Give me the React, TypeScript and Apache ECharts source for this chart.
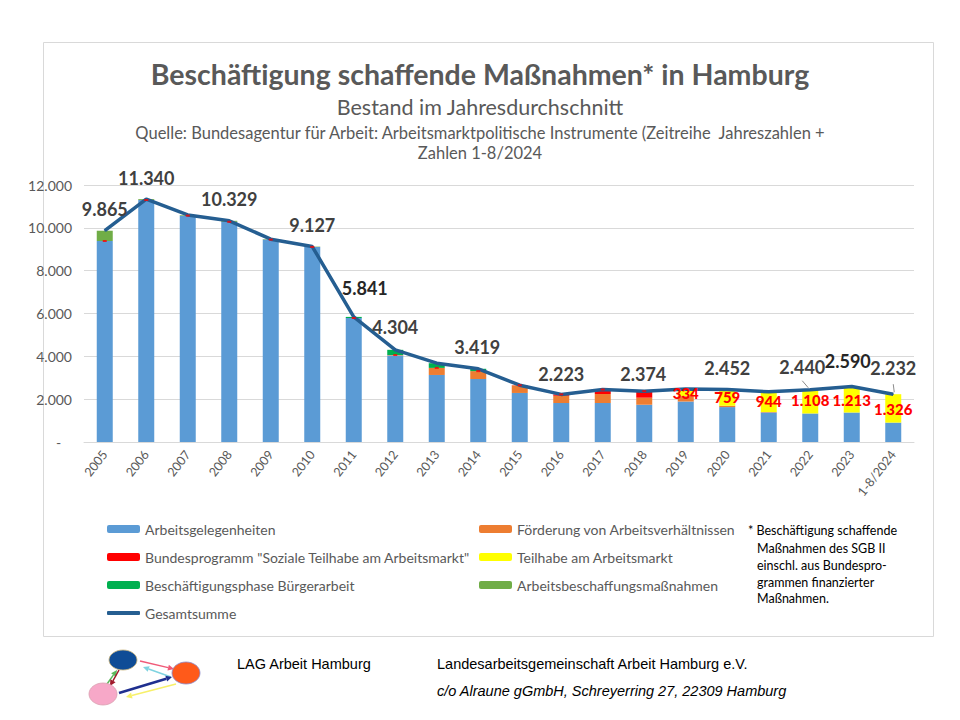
import React, { useEffect, useRef } from "react";
import * as echarts from "echarts";

const years = ["2005","2006","2007","2008","2009","2010","2011","2012","2013","2014","2015","2016","2017","2018","2019","2020","2021","2022","2023","1-8/2024"];
const arbeitsgelegenheiten = [9385, 11300, 10570, 10280, 9450, 9110, 5790, 4040, 3130, 2940, 2290, 1820, 1820, 1740, 1890, 1630, 1380, 1332, 1377, 906];
const foerderung = [0, 0, 0, 0, 0, 0, 0, 20, 330, 370, 350, 340, 420, 330, 230, 63, 20, 0, 0, 0];
const bundesprogramm = [0, 0, 0, 0, 0, 0, 0, 0, 0, 0, 10, 63, 210, 304, 20, 0, 0, 0, 0, 0];
const teilhabe = [0, 0, 0, 0, 0, 0, 0, 0, 0, 0, 0, 0, 0, 0, 334, 759, 944, 1108, 1213, 1326];
const buergerarbeit = [0, 0, 0, 0, 0, 0, 51, 244, 220, 109, 0, 0, 0, 0, 0, 0, 0, 0, 0, 0];
const abm = [480, 40, 30, 49, 20, 17, 0, 0, 0, 0, 0, 0, 0, 0, 0, 0, 0, 0, 0, 0];
const gesamtsumme = [9865, 11340, 10600, 10329, 9470, 9127, 5841, 4304, 3680, 3419, 2650, 2223, 2450, 2374, 2474, 2452, 2344, 2440, 2590, 2232];
const yTicks = [0, 2000, 4000, 6000, 8000, 10000, 12000];

// which totals carry a label, and label nudges (layout, not data)
const totalLabelNudge: Record<number, [number, number]> = {
  0: [0, 0], 1: [0, 0], 3: [0, 0], 5: [0, 0], 6: [11, -7], 7: [0, -1], 9: [-1, 0],
  11: [0, 1], 13: [-1, 4], 15: [0, 0], 17: [-8, -1], 18: [-4, -4], 19: [0, -5],
};
// leader line offsets from the point: [fromDx, fromDy, toDx, toDy]
const leaderOffsets: Record<number, [number, number, number, number]> = {
  17: [-8, -9, -2, -2],
  19: [0, -10, 1, -2],
};
const redLabelNudge: Record<number, number> = { 14: -6, 15: -2, 16: 0, 17: 1, 18: 4, 19: 5 };
const darkTotals = [6, 18];

const fmt = (v: number) => String(Math.round(v)).replace(/\B(?=(\d{3})+(?!\d))/g, ".");

const COL = {
  blue: "#5B9BD5", orange: "#ED7D31", red: "#FF0000", yellow: "#FFFF00",
  dgreen: "#00B050", lgreen: "#70AD47", line: "#255E91", text: "#595959",
};
const CAL = "Lato, 'Noto Sans', sans-serif";
const ARIAL = "'Liberation Sans', Arial, sans-serif";

export default function App() {
  const ref = useRef<HTMLDivElement>(null);
  useEffect(() => {
    if (!ref.current) return;
    const chart = echarts.init(ref.current, null, { renderer: "svg" });

    const names = {
      agh: "Arbeitsgelegenheiten",
      fav: "Förderung von Arbeitsverhältnissen",
      bp: 'Bundesprogramm "Soziale Teilhabe am Arbeitsmarkt"',
      th: "Teilhabe am Arbeitsmarkt",
      ba: "Beschäftigungsphase Bürgerarbeit",
      abm: "Arbeitsbeschaffungsmaßnahmen",
      total: "Gesamtsumme",
    };

    const barBase = { type: "bar", stack: "s", barWidth: 16, xAxisIndex: 0, yAxisIndex: 0 };

    const legendRow = (name: string, left: number, centerY: number, extra: any = {}) => ({
      data: [name], left, top: centerY - 8, padding: 0, itemWidth: 33, itemHeight: 8, itemGap: 0,
      selectedMode: false,
      textStyle: { fontFamily: CAL, fontSize: 14, color: COL.text, lineHeight: 16, padding: [0, 0, 0, 0] },
      ...extra,
    });

    const stackTop = years.map((_, i) =>
      arbeitsgelegenheiten[i] + foerderung[i] + bundesprogramm[i] + teilhabe[i] + buergerarbeit[i] + abm[i]);
    const dashVals = years.map((_, i) => (i <= 13 ? arbeitsgelegenheiten[i] + foerderung[i] + bundesprogramm[i] : null));

    const footnote = [
      ["* Beschäftigung schaffende", 748, 530],
      ["Maßnahmen des SGB II", 757, 548],
      ["einschl. aus Bundespro-", 757, 565],
      ["grammen finanzierter", 757, 582],
      ["Maßnahmen.", 757, 598],
    ];

    const arrow = (x1: number, y1: number, x2: number, y2: number, color: string, w: number) => {
      const ang = Math.atan2(y2 - y1, x2 - x1);
      const hl = 6, hw = 3;
      const bx = x2 - hl * Math.cos(ang), by = y2 - hl * Math.sin(ang);
      return [
        { type: "line", shape: { x1, y1, x2: bx, y2: by }, style: { stroke: color, lineWidth: w } },
        { type: "polygon", shape: { points: [[x2, y2], [bx - hw * Math.sin(ang), by + hw * Math.cos(ang)], [bx + hw * Math.sin(ang), by - hw * Math.cos(ang)]] }, style: { fill: color } },
      ];
    };

    const option: any = {
      animation: false,
      backgroundColor: "#ffffff",
      title: [
        { text: "Beschäftigung schaffende Maßnahmen* in Hamburg", left: 475, top: 54, textAlign: "center",
          textStyle: { fontFamily: CAL, fontSize: 28.5, fontWeight: "bold", color: COL.text } },
        { text: "Bestand im Jahresdurchschnitt", left: 475, top: 91, textAlign: "center",
          textStyle: { fontFamily: CAL, fontSize: 21.5, fontWeight: "normal", color: COL.text } },
        { text: "Quelle: Bundesagentur für Arbeit: Arbeitsmarktpolitische Instrumente (Zeitreihe  Jahreszahlen +", left: 475, top: 119, textAlign: "center",
          textStyle: { fontFamily: CAL, fontSize: 16.5, fontWeight: "normal", color: COL.text } },
        { text: "Zahlen 1-8/2024", left: 475, top: 139, textAlign: "center",
          textStyle: { fontFamily: CAL, fontSize: 16.5, fontWeight: "normal", color: COL.text } },
      ],
      legend: [
        legendRow(names.agh, 107, 529),
        legendRow(names.bp, 107, 557),
        legendRow(names.ba, 107, 585),
        legendRow(names.total, 107, 613, { icon: "roundRect", itemHeight: 4, itemStyle: { color: COL.line } }),
        legendRow(names.fav, 479, 529),
        legendRow(names.th, 479, 557),
        legendRow(names.abm, 479, 585),
      ],
      grid: { left: 84, right: 46, top: 185, bottom: 278, containLabel: false },
      xAxis: {
        type: "category", data: years,
        axisLine: { lineStyle: { color: "#D9D9D9", width: 1 } },
        axisTick: { show: false },
        axisLabel: { rotate: 52, margin: 10, fontFamily: CAL, fontSize: 12.5, color: COL.text, interval: 0 },
      },
      yAxis: {
        type: "value", min: yTicks[0], max: yTicks[yTicks.length - 1], interval: yTicks[1] - yTicks[0],
        axisLine: { show: false }, axisTick: { show: false },
        splitLine: { lineStyle: { color: "#D9D9D9", width: 1 } },
        axisLabel: { margin: 12, fontFamily: CAL, fontSize: 14, color: COL.text,
          formatter: (v: number) => (v === 0 ? "-   " : fmt(v)) },
      },
      series: [
        { ...barBase, name: names.agh, data: arbeitsgelegenheiten, itemStyle: { color: COL.blue } },
        { ...barBase, name: names.fav, data: foerderung, itemStyle: { color: COL.orange } },
        { ...barBase, name: names.bp, data: bundesprogramm, itemStyle: { color: COL.red } },
        { ...barBase, name: names.th, data: teilhabe, itemStyle: { color: COL.yellow } },
        { ...barBase, name: names.ba, data: buergerarbeit, itemStyle: { color: COL.dgreen } },
        { ...barBase, name: names.abm, data: abm, itemStyle: { color: COL.lgreen } },
        {
          type: "line", name: names.total, z: 4,
          symbol: "circle", symbolSize: 1, showSymbol: true, showAllSymbol: true,
          lineStyle: { color: COL.line, width: 3.5 }, itemStyle: { color: COL.line },
          label: { show: false },
          labelLayout: (p: any) => {
            const n = totalLabelNudge[p.dataIndex];
            return n ? { dx: n[0], dy: n[1] } : {};
          },
          data: gesamtsumme.map((v, i) => totalLabelNudge[i] ? {
            value: v,
            label: { show: true, position: "top", distance: 12, formatter: (p: any) => fmt(p.value),
              fontFamily: CAL, fontSize: 18, fontWeight: "bold", color: darkTotals.includes(i) ? "#262626" : "#404040" },
          } : v),
        },
        {
          type: "custom", name: "leaders", z: 5, silent: true,
          renderItem: (params: any, api: any) => {
            const idx = api.value(0);
            const o = leaderOffsets[idx];
            const pt = api.coord([idx, api.value(1)]);
            return {
              type: "line",
              shape: { x1: pt[0] + o[0], y1: pt[1] + o[1], x2: pt[0] + o[2], y2: pt[1] + o[3] },
              style: { stroke: "#8C8C8C", lineWidth: 1 },
            };
          },
          data: Object.keys(leaderOffsets).map((k) => [Number(k), gesamtsumme[Number(k)]]),
        },
        {
          type: "scatter", name: "marker", z: 5, silent: true,
          symbol: "rect", symbolSize: [4, 2], itemStyle: { color: COL.red },
          data: dashVals,
        },
        {
          type: "scatter", name: "teilhabeLabels", z: 6, silent: true,
          symbol: "rect", symbolSize: 0.01, itemStyle: { color: COL.red },
          data: stackTop.map((v, i) => teilhabe[i] > 0 ? {
            value: v,
            label: { show: true, position: "bottom", distance: 2, offset: [0, redLabelNudge[i] || 0],
              formatter: () => fmt(teilhabe[i]), fontFamily: CAL, fontSize: 15, fontWeight: 900,
              color: COL.red, textBorderWidth: 0, opacity: 1 },
          } : null),
        },
      ],
      graphic: [
        { type: "rect", shape: { x: 43.5, y: 42.5, width: 890, height: 594 }, style: { fill: "none", stroke: "#D9D9D9", lineWidth: 1 }, z: -1 },
        ...footnote.map(([t, x, y]) => ({
          type: "text", x: x as number, y: y as number,
          style: { text: t as string, fontFamily: CAL, fontSize: 12.5, fill: "#000000", textVerticalAlign: "middle" },
        })),
        { type: "text", x: 237, y: 664, style: { text: "LAG Arbeit Hamburg", fontFamily: ARIAL, fontSize: 14.5, fill: "#000", textVerticalAlign: "middle" } },
        { type: "text", x: 437, y: 664, style: { text: "Landesarbeitsgemeinschaft Arbeit Hamburg e.V.", fontFamily: ARIAL, fontSize: 14.5, fill: "#000", textVerticalAlign: "middle" } },
        { type: "text", x: 437, y: 691, style: { text: "c/o Alraune gGmbH, Schreyerring 27, 22309 Hamburg", fontFamily: ARIAL, fontSize: 14.5, fontStyle: "italic", fill: "#000", textVerticalAlign: "middle" } },
        // logo
        { type: "group", children: [
          ...arrow(140, 661, 174, 669, "#F05A78", 1.5),
          ...arrow(171, 677, 143, 667, "#7FD3E0", 1.5),
          ...arrow(107, 684, 117, 670, "#5CB85C", 1.5),
          ...arrow(119, 670, 110, 686, "#A0182A", 1.5),
          ...arrow(119, 693, 172, 677, "#1F2F8F", 2.5),
          ...arrow(176, 684, 126, 697, "#F7F06A", 1.5),
          { type: "ellipse", shape: { cx: 123, cy: 660, rx: 14, ry: 10 }, style: { fill: "#0F4C96", stroke: "#C9B27A", lineWidth: 0.8 } },
          { type: "ellipse", shape: { cx: 186, cy: 673, rx: 14, ry: 11 }, style: { fill: "#FF5A1A", stroke: "#8888CC", lineWidth: 0.8 } },
          { type: "ellipse", shape: { cx: 103, cy: 694, rx: 14, ry: 11 }, style: { fill: "#F7A8C8", stroke: "#D9A0B0", lineWidth: 0.8 } },
        ] },
      ],
    };
    chart.setOption(option);
    return () => chart.dispose();
  }, []);
  return <div ref={ref} style={{ position: "absolute", left: 0, top: 0, width: 960, height: 720, background: "#fff" }} />;
}
